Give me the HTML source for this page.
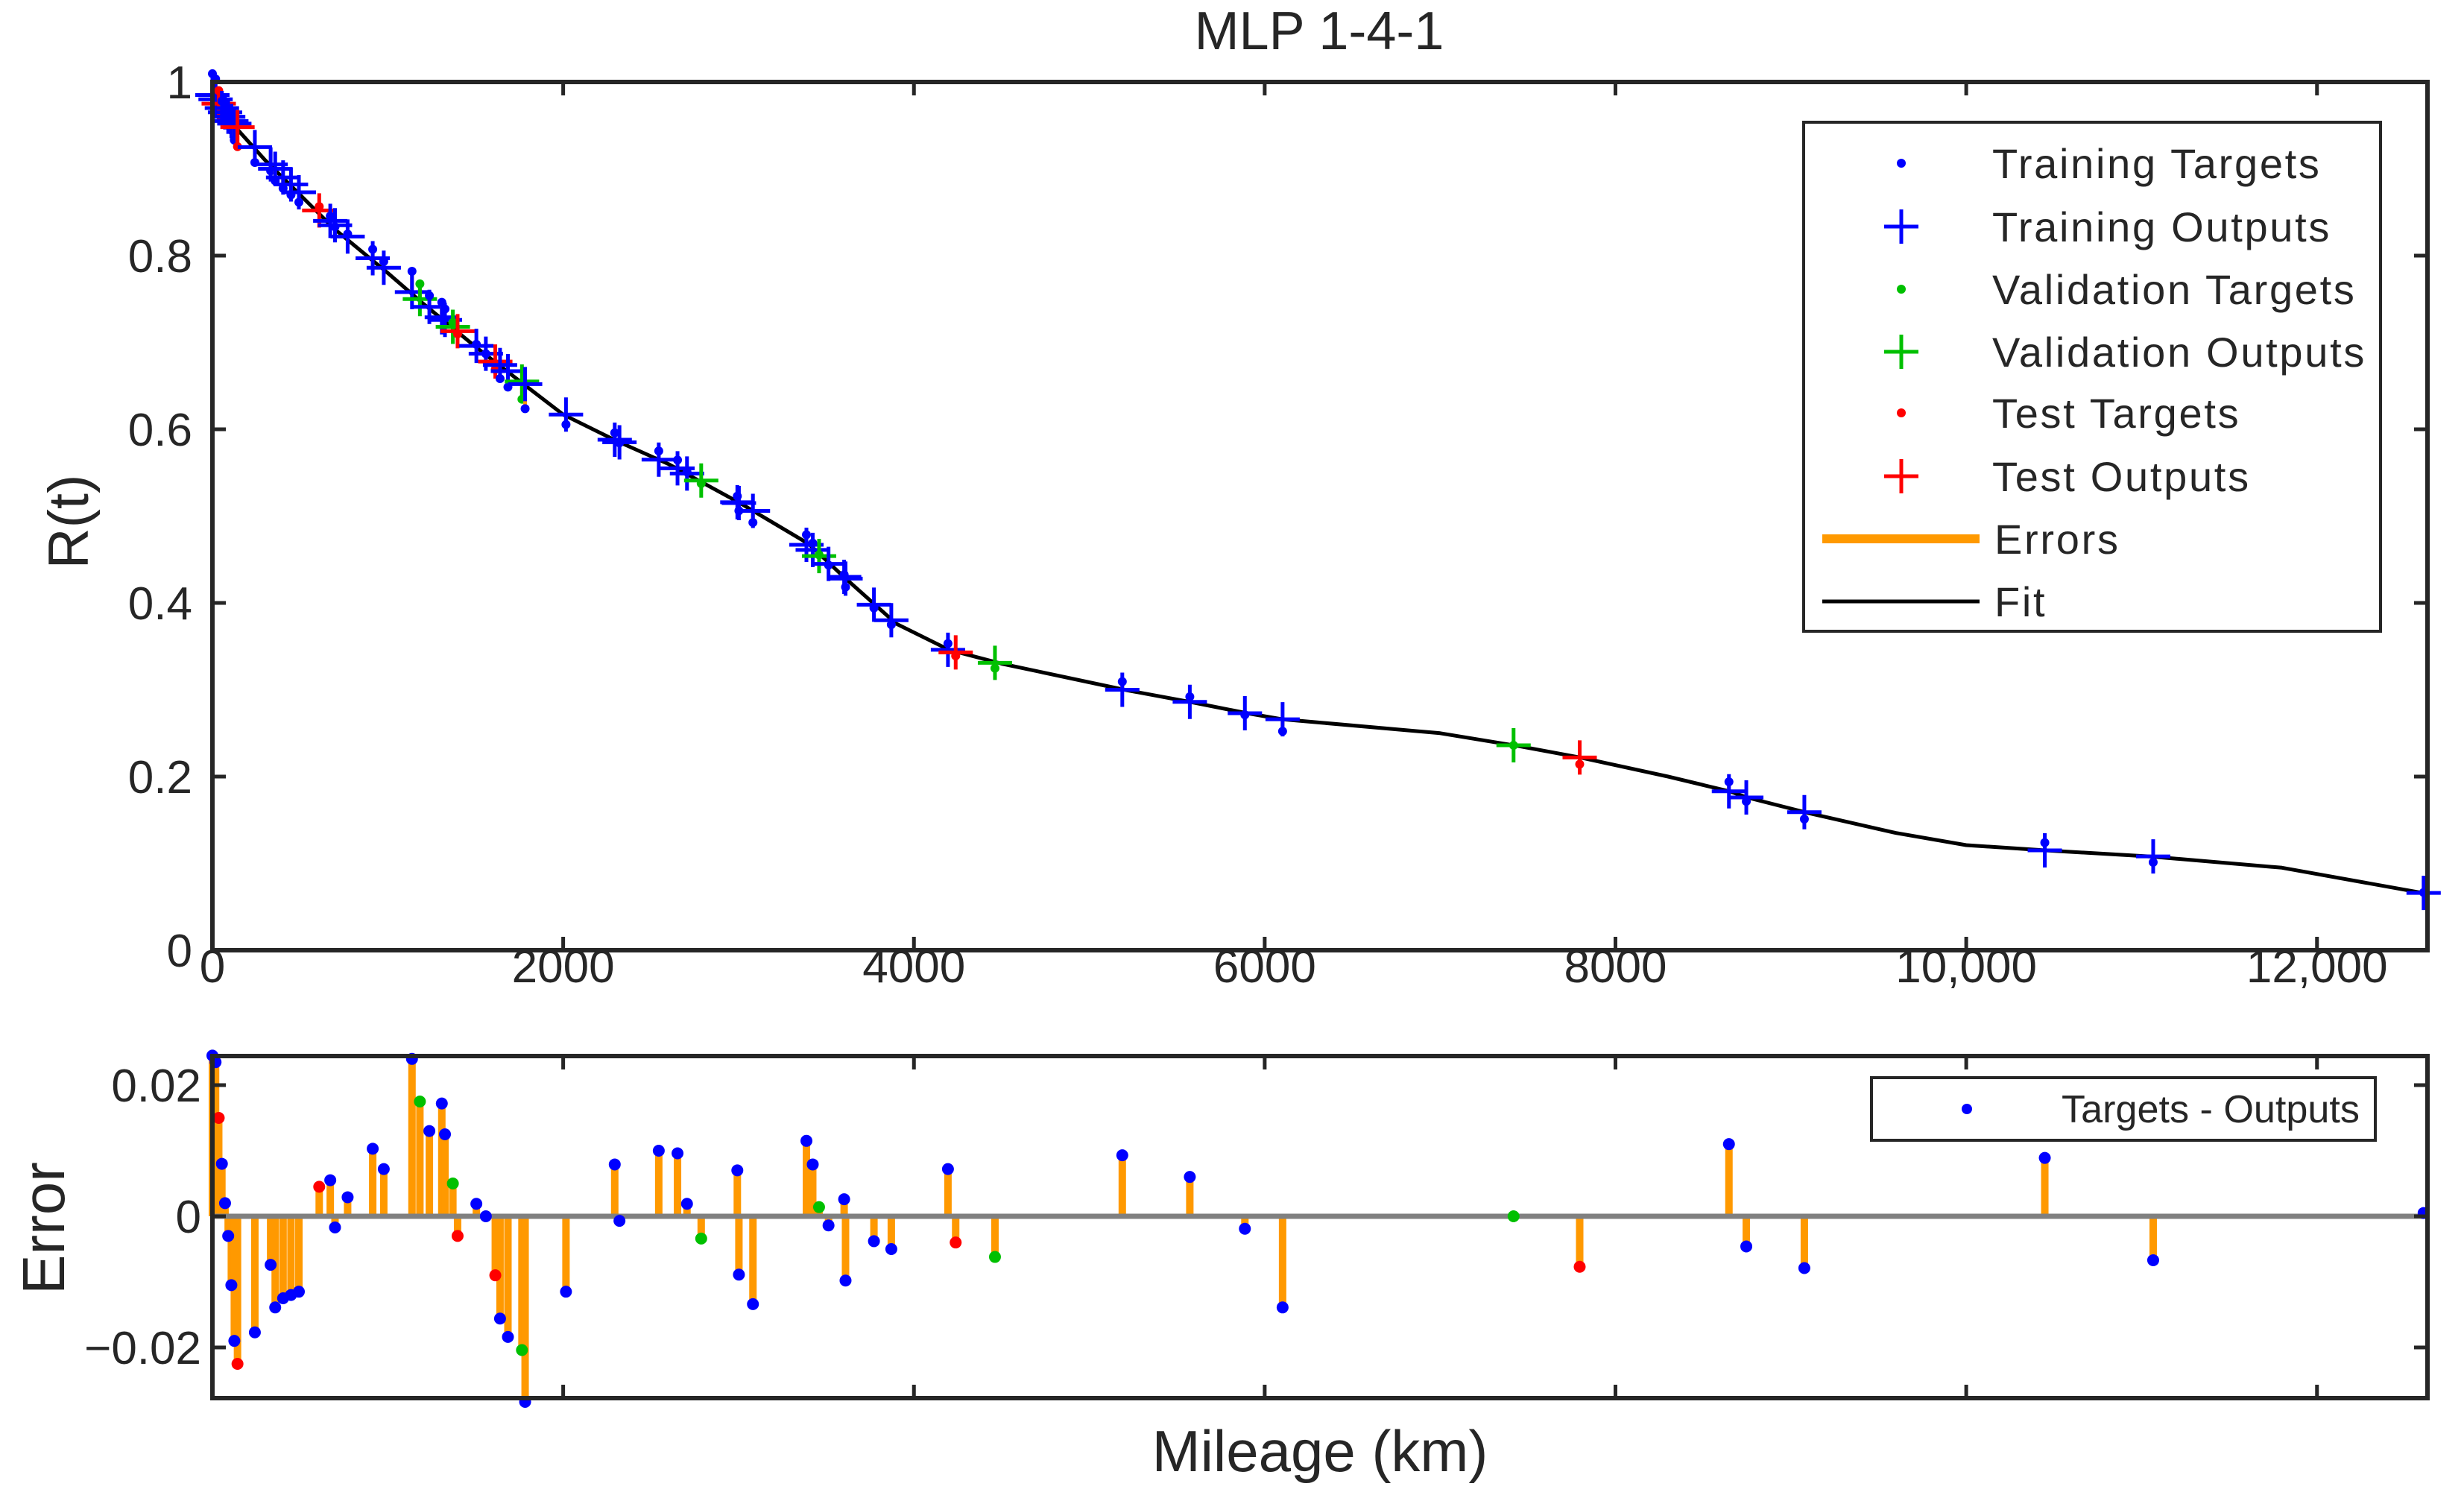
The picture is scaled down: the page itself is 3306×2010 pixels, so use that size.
<!DOCTYPE html>
<html><head><meta charset="utf-8"><style>
html,body{margin:0;padding:0;background:#fff;}
svg{display:block;font-family:"Liberation Sans",sans-serif;}
</style></head><body>
<svg id="chart" width="3306" height="2010" viewBox="0 0 3306 2010" xmlns="http://www.w3.org/2000/svg">
<rect x="0" y="0" width="3306" height="2010" fill="#fff"/>
<text x="1770" y="66" font-size="72" text-anchor="middle" fill="#262626">MLP 1-4-1</text>
<text transform="translate(118,700) rotate(-90)" font-size="76" text-anchor="middle" fill="#262626">R(t)</text>
<text transform="translate(86,1648) rotate(-90)" font-size="80" text-anchor="middle" fill="#262626">Error</text>
<text x="1771" y="1974" font-size="78" text-anchor="middle" fill="#262626">Mileage (km)</text>
<g id="topG"></g>
<g id="botG"></g>
</svg>
<script>
const fitKm=[0,100,300,500,700,1000,1200,1500,1800,2000,2300,2600,3000,3400,3600,3900,4200,4500,5200,5600,5900,6100,7000,7450,7800,8300,8650,8750,9100,9600,10000,10450,11050,11800,12630];
const fitR=[0.99,0.955,0.91,0.87,0.83,0.78,0.745,0.695,0.648,0.617,0.587,0.56,0.516,0.468,0.43,0.376,0.346,0.33,0.30,0.285,0.273,0.266,0.25,0.235,0.222,0.2,0.183,0.176,0.158,0.135,0.121,0.115,0.108,0.095,0.065];
const mileage=[0,18,36,54,72,90,108,125,143,242,332,358,403,448,493,609,672,699,771,914,977,1138,1183,1237,1308,1326,1371,1398,1505,1559,1613,1640,1685,1765,1783,2016,2294,2321,2545,2652,2706,2787,2993,3002,3082,3387,3423,3459,3513,3602,3610,3772,3871,4194,4238,4462,5188,5573,5887,6102,7419,7796,8647,8746,9077,10448,11066,12608];
const outputs=[0.985,0.98,0.975,0.97,0.965,0.96,0.955,0.952,0.948,0.925,0.905,0.9,0.89,0.882,0.873,0.852,0.84,0.835,0.822,0.797,0.786,0.758,0.75,0.741,0.729,0.726,0.718,0.713,0.696,0.687,0.678,0.674,0.667,0.655,0.652,0.617,0.588,0.585,0.565,0.555,0.549,0.541,0.516,0.515,0.506,0.467,0.461,0.454,0.445,0.43,0.428,0.398,0.38,0.346,0.343,0.331,0.300,0.286,0.273,0.266,0.236,0.222,0.183,0.176,0.159,0.115,0.108,0.066];
const errors=[0.0245,0.0235,0.015,0.008,0.002,-0.003,-0.0105,-0.019,-0.0225,-0.0177,-0.0074,-0.0139,-0.0125,-0.012,-0.0115,0.0045,0.0055,-0.0017,0.0029,0.0103,0.0072,0.024,0.0175,0.013,0.0172,0.0125,0.005,-0.003,0.0019,0.0,-0.009,-0.0156,-0.0184,-0.0204,-0.0283,-0.0115,0.0079,-0.0007,0.01,0.0096,0.0019,-0.0034,0.007,-0.0089,-0.0134,0.0115,0.0079,0.0014,-0.0014,0.0026,-0.0098,-0.0038,-0.005,0.0072,-0.004,-0.0062,0.0093,0.006,-0.0019,-0.0139,0.0,-0.0077,0.011,-0.0046,-0.0079,0.0089,-0.0067,0.0005];
const sets=["t","t","s","t","t","t","t","t","s","t","t","t","t","t","t","s","t","t","t","t","t","t","v","t","t","t","v","s","t","t","s","t","t","v","t","t","t","t","t","t","t","v","t","t","t","t","t","v","t","t","t","t","t","t","s","v","t","t","t","t","v","s","t","t","t","t","t","t"];
const topTicksX=[0,2000,4000,6000,8000,10000,12000];
const topTickLabelsX=["0","2000","4000","6000","8000","10,000","12,000"];
const topTicksY=[0,0.2,0.4,0.6,0.8,1];
const topTickLabelsY=["0","0.2","0.4","0.6","0.8","1"];
const errTicksY=[-0.02,0,0.02];
const errTickLabelsY=["\u22120.02","0","0.02"];
const legendLabels=["Training Targets","Training Outputs","Validation Targets","Validation Outputs","Test Targets","Test Outputs","Errors","Fit"];

const NS="http://www.w3.org/2000/svg";
const colors={t:"#0000ff",v:"#00c000",s:"#ff0000"};
const L=285,R=3257,T1=110,B1=1275,T2=1417,B2=1876;
const XMAX=12630,EMAX=0.02443,EMIN=-0.02773;
const sx=v=>L+v/XMAX*(R-L);
const sy=v=>B1-v*(B1-T1);
const se=v=>B2-(v-EMIN)/(EMAX-EMIN)*(B2-T2);
function mk(tag,attrs,parent){const e=document.createElementNS(NS,tag);for(const k in attrs)e.setAttribute(k,attrs[k]);parent.appendChild(e);return e;}
const topG=document.getElementById('topG'),botG=document.getElementById('botG');
const AX="#262626";

let d="";fitKm.forEach((k,i)=>{d+=(i?"L":"M")+sx(k).toFixed(1)+","+sy(fitR[i]).toFixed(1);});
let fit=mk('path',{d:d,fill:"none",stroke:"#000",'stroke-width':5,'stroke-linejoin':'round'},topG);


mileage.forEach((m,i)=>{
  const x=sx(m),yo=sy(outputs[i]),yt=sy(outputs[i]+errors[i]),c=colors[sets[i]];
  let el=mk('line',{x1:x,x2:x,y1:yo,y2:yt,stroke:"#ff9900",'stroke-width':5},topG);
  
  
  let p=mk('path',{d:`M${x-23},${yo}H${x+23}M${x},${yo-23}V${yo+23}`,stroke:c,'stroke-width':5,fill:"none"},topG);
  
  
  let t=mk('circle',{cx:x,cy:yt,r:6,fill:c},topG);
  
  
});
let box=mk('rect',{x:L,y:T1,width:R-L,height:B1-T1,fill:"none",stroke:AX,'stroke-width':6},topG);


topTicksX.forEach((v,i)=>{
  const x=sx(v);
  mk('path',{d:`M${x},${B1}V${B1-18}M${x},${T1}V${T1+18}`,stroke:AX,'stroke-width':5},topG);
  let tl=mk('text',{x:x,y:1318,'font-size':62,'text-anchor':'middle',fill:AX},topG);
  tl.textContent=topTickLabelsX[i];
  
  
});
topTicksY.forEach((v,i)=>{
  const y=sy(v);
  mk('path',{d:`M${L},${y}H${L+18}M${R},${y}H${R-18}`,stroke:AX,'stroke-width':5},topG);
  let tl=mk('text',{x:258,y:y+22,'font-size':62,'text-anchor':'end',fill:AX},topG);
  tl.textContent=topTickLabelsY[i];
  
  
});
let lg=mk('rect',{x:2420,y:164,width:774,height:683,fill:"#fff",stroke:AX,'stroke-width':4},topG);


const rowsY=[219,304,388,472,554,639,723,807];
const legSets=["t","t","v","v","s","s"];
legendLabels.forEach((lab,i)=>{
  const y=rowsY[i];
  if(i<6){
    const c=colors[legSets[i]];
    if(i%2===0){mk('circle',{cx:2551,cy:y,r:6,fill:c},topG);}
    else{mk('path',{d:`M2528,${y}H2574M2551,${y-23}V${y+23}`,stroke:c,'stroke-width':5},topG);}
  }else if(i===6){mk('line',{x1:2445,x2:2656,y1:y,y2:y,stroke:"#ff9900",'stroke-width':12},topG);}
  else{mk('line',{x1:2445,x2:2656,y1:y,y2:y,stroke:"#000",'stroke-width':5},topG);}
  let t=mk('text',{x:i<6?2673:2676,y:y+20,'font-size':56,'letter-spacing':2.7,fill:AX},topG);
  t.textContent=lab;
  
  
});

const y0=se(0);
mileage.forEach((m,i)=>{
  const x=sx(m),ye=se(errors[i]);
  let st=mk('line',{x1:x,x2:x,y1:y0,y2:ye,stroke:"#ff9900",'stroke-width':10},botG);
  
  
});
let zl=mk('line',{x1:L,x2:R,y1:y0,y2:y0,stroke:"#808080",'stroke-width':7},botG);


mileage.forEach((m,i)=>{
  let c=mk('circle',{cx:sx(m),cy:se(errors[i]),r:8,fill:colors[sets[i]]},botG);
  
  
});
let box2=mk('rect',{x:L,y:T2,width:R-L,height:B2-T2,fill:"none",stroke:AX,'stroke-width':6},botG);


topTicksX.forEach(v=>{const x=sx(v);mk('path',{d:`M${x},${B2}V${B2-18}M${x},${T2}V${T2+18}`,stroke:AX,'stroke-width':5},botG);});
errTicksY.forEach((v,i)=>{
  const y=se(v);
  mk('path',{d:`M${L},${y}H${L+18}M${R},${y}H${R-18}`,stroke:AX,'stroke-width':5},botG);
  let tl=mk('text',{x:270,y:y+22,'font-size':62,'text-anchor':'end',fill:AX},botG);
  tl.textContent=errTickLabelsY[i];
  
  
});
let lg2=mk('rect',{x:2511,y:1446,width:676,height:84,fill:"#fff",stroke:AX,'stroke-width':4},botG);


mk('circle',{cx:2639,cy:1488,r:7,fill:"#0000ff"},botG);
let lt=mk('text',{x:2766,y:1506,'font-size':52,fill:AX,textLength:400,lengthAdjust:'spacingAndGlyphs'},botG);
lt.textContent="Targets - Outputs";


</script>
</body></html>
